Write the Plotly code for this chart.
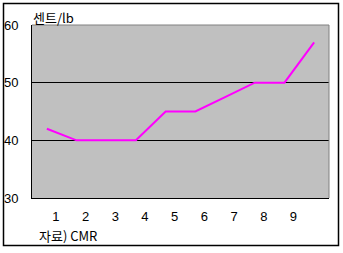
import plotly.graph_objects as go

categories = [1, 2, 3, 4, 5, 6, 7, 8, 9, 10]
values = [42, 40, 40, 40, 45, 45, 47.5, 50, 50, 57]
x_tick_vals = [1, 2, 3, 4, 5, 6, 7, 8, 9]
x_tick_text = ["1", "2", "3", "4", "5", "6", "7", "8", "9"]
y_tick_vals = [30, 40, 50, 60]
y_tick_text = ["30", "40", "50", "60"]

FONT = "Liberation Sans, Noto Sans CJK KR, sans-serif"
KFONT = "Noto Sans CJK KR, sans-serif"

fig = go.Figure()
fig.add_trace(go.Scatter(
    x=categories, y=values, mode="lines",
    line=dict(color="#FF00FF", width=2),
    hoverinfo="skip", showlegend=False,
))

W, H = 343, 253
L, R, T, B = 32, 14, 25, 55
pw, ph = W - L - R, H - T - B

def px_x(p):
    return (p - L) / pw

def px_y(p):
    return (H - B - p) / ph

fig.update_layout(
    width=W, height=H,
    margin=dict(l=L, r=R, t=T, b=B, pad=0, autoexpand=False),
    paper_bgcolor="white",
    plot_bgcolor="#C0C0C0",
    font=dict(family=FONT, size=13, color="black"),
    xaxis=dict(
        range=[0.5, 10.5], tickmode="array",
        tickvals=x_tick_vals, ticktext=x_tick_text,
        showgrid=False, zeroline=False, automargin=False,
        showline=True, linecolor="black", linewidth=1,
        ticks="", ticklabelshift=9, ticklabelstandoff=6,
        fixedrange=True,
    ),
    yaxis=dict(
        range=[30, 60], tickmode="array",
        tickvals=y_tick_vals, ticktext=y_tick_text,
        showgrid=True, gridcolor="black", gridwidth=1,
        zeroline=False, automargin=False,
        showline=True, linecolor="black", linewidth=1,
        ticks="", ticklabelstandoff=10,
        fixedrange=True,
    ),
    shapes=[
        dict(type="line", xref="paper", yref="paper", x0=0, x1=1, y0=1, y1=1,
             line=dict(color="#808080", width=1), layer="above"),
        dict(type="line", xref="paper", yref="paper", x0=1, x1=1, y0=0, y1=1,
             line=dict(color="#808080", width=1), layer="above"),
        dict(type="rect", xref="paper", yref="paper",
             x0=px_x(3.5), x1=px_x(338.5), y0=px_y(245.5), y1=px_y(3.5),
             line=dict(color="black", width=1.5), layer="above"),
    ],
    annotations=[
        dict(text="센트/lb", xref="paper", yref="paper",
             x=px_x(31), y=px_y(17), xanchor="left", yanchor="middle",
             showarrow=False, font=dict(family=KFONT, size=13, color="black")),
        dict(text="자료) CMR", xref="paper", yref="paper",
             x=px_x(37), y=px_y(235), xanchor="left", yanchor="middle",
             showarrow=False, font=dict(family=KFONT, size=13, color="black")),
    ],
)

fig.write_html("out.html")
